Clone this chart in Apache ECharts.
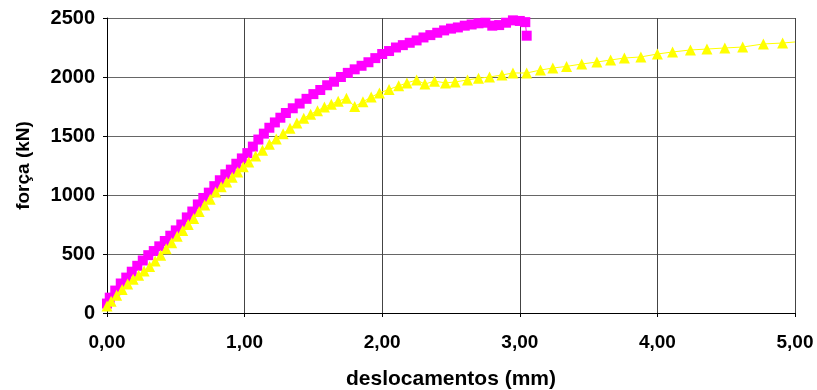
<!DOCTYPE html>
<html>
<head>
<meta charset="utf-8">
<script src="https://cdn.jsdelivr.net/npm/echarts@6/dist/echarts.min.js"></script>
<style>
  html, body { margin: 0; padding: 0; background: #fff; }
  #app { width: 817px; height: 390px; }
</style>
</head>
<body>
<div id="app"></div>
<script>
// ensaio 1 (quadrados magenta)
const serieA = [
  [0.00, 80], [0.02, 130], [0.06, 190], [0.10, 250], [0.14, 300], [0.18, 350],
  [0.22, 400], [0.26, 445], [0.30, 490], [0.34, 525], [0.38, 565], [0.42, 610],
  [0.46, 655], [0.50, 700], [0.54, 750], [0.58, 810], [0.62, 860], [0.66, 920],
  [0.70, 975], [0.74, 1020], [0.78, 1075], [0.82, 1125], [0.86, 1175], [0.90, 1215],
  [0.94, 1265], [0.98, 1310], [1.02, 1355], [1.06, 1410], [1.10, 1470], [1.14, 1520],
  [1.18, 1570], [1.22, 1615], [1.26, 1655], [1.30, 1695], [1.35, 1735], [1.40, 1775],
  [1.45, 1815], [1.50, 1855], [1.55, 1890], [1.60, 1930], [1.65, 1960], [1.70, 2000],
  [1.75, 2035], [1.80, 2065], [1.85, 2095], [1.90, 2125], [1.95, 2160], [2.00, 2195],
  [2.05, 2220], [2.10, 2250], [2.15, 2270], [2.20, 2290], [2.25, 2310], [2.30, 2335],
  [2.35, 2355], [2.40, 2375], [2.45, 2395], [2.50, 2410], [2.55, 2420], [2.60, 2435],
  [2.65, 2445], [2.70, 2455], [2.75, 2460], [2.80, 2435], [2.85, 2440], [2.90, 2460],
  [2.95, 2480], [3.00, 2475], [3.04, 2465], [3.05, 2350]
];

// ensaio 2 (triangulos amarelos)
const serieB = [
  [0.00, 60], [0.03, 100], [0.07, 150], [0.11, 200], [0.15, 245], [0.19, 285],
  [0.23, 320], [0.27, 355], [0.31, 395], [0.35, 440], [0.39, 490], [0.43, 545],
  [0.47, 595], [0.51, 650], [0.55, 700], [0.59, 750], [0.63, 800], [0.67, 860],
  [0.71, 915], [0.75, 965], [0.79, 1025], [0.83, 1070], [0.87, 1110], [0.91, 1150],
  [0.95, 1195], [0.99, 1240], [1.03, 1280], [1.08, 1330], [1.13, 1380], [1.18, 1430],
  [1.23, 1475], [1.28, 1520], [1.33, 1565], [1.38, 1610], [1.43, 1650], [1.48, 1685],
  [1.53, 1715], [1.58, 1745], [1.63, 1770], [1.68, 1795], [1.74, 1820], [1.80, 1750],
  [1.86, 1790], [1.92, 1830], [1.98, 1865], [2.05, 1895], [2.12, 1925], [2.18, 1950],
  [2.25, 1975], [2.31, 1940], [2.38, 1965], [2.46, 1950], [2.53, 1958], [2.62, 1975],
  [2.70, 1990], [2.78, 2000], [2.87, 2017], [2.95, 2034], [3.05, 2034], [3.15, 2059],
  [3.24, 2076], [3.34, 2090], [3.45, 2110], [3.56, 2127], [3.66, 2144], [3.76, 2161],
  [3.88, 2170], [4.00, 2195], [4.11, 2212], [4.24, 2229], [4.36, 2237], [4.49, 2246],
  [4.62, 2254], [4.77, 2280], [4.91, 2288]
];
const fimB = [5.00, 2297];

const fonte = "'Liberation Sans', Arial, sans-serif";

const chart = echarts.init(document.getElementById("app"));
chart.setOption({
  backgroundColor: "#fff",
  animation: false,
  grid: { left: 107, right: 22, top: 18, bottom: 77, outerBoundsMode: "none", containLabel: false },
  xAxis: {
    type: "value",
    min: 0,
    max: 5,
    interval: 1,
    name: "deslocamentos (mm)",
    nameLocation: "middle",
    nameGap: 56,
    nameTextStyle: { fontFamily: fonte, fontWeight: "bold", fontSize: 21, color: "#000" },
    axisLine: { lineStyle: { color: "#000", width: 1 } },
    axisTick: { show: true, length: 4, lineStyle: { color: "#000" } },
    axisLabel: {
      margin: 20,
      fontFamily: fonte,
      fontWeight: "bold",
      fontSize: 19,
      color: "#000",
      formatter: v => v.toFixed(2).replace(".", ",")
    },
    splitLine: { show: true, lineStyle: { color: "#444", width: 1 } }
  },
  yAxis: {
    type: "value",
    min: 0,
    max: 2500,
    interval: 500,
    name: "força (kN)",
    nameLocation: "middle",
    nameGap: 74,
    nameRotate: 90,
    nameTextStyle: { fontFamily: fonte, fontWeight: "bold", fontSize: 19, color: "#000" },
    axisLine: { show: true, lineStyle: { color: "#000", width: 1 } },
    axisTick: { show: true, length: 4, lineStyle: { color: "#000" } },
    axisLabel: {
      margin: 12,
      fontFamily: fonte,
      fontWeight: "bold",
      fontSize: 20,
      color: "#000",
      formatter: v => String(v)
    },
    splitLine: { show: true, lineStyle: { color: "#666", width: 1 } }
  },
  series: [
    {
      type: "line",
      data: serieA,
      symbol: "rect",
      symbolSize: 10,
      showAllSymbol: true,
      itemStyle: { color: "#ff00ff" },
      lineStyle: { color: "#ff00ff", width: 1 },
      z: 2
    },
    {
      type: "line",
      data: serieB.concat([{ value: fimB, symbol: "none" }]),
      symbol: "triangle",
      symbolSize: 11,
      showAllSymbol: true,
      itemStyle: { color: "#ffff00" },
      lineStyle: { color: "#ffff00", width: 1 },
      z: 3
    }
  ]
});
</script>
</body>
</html>
